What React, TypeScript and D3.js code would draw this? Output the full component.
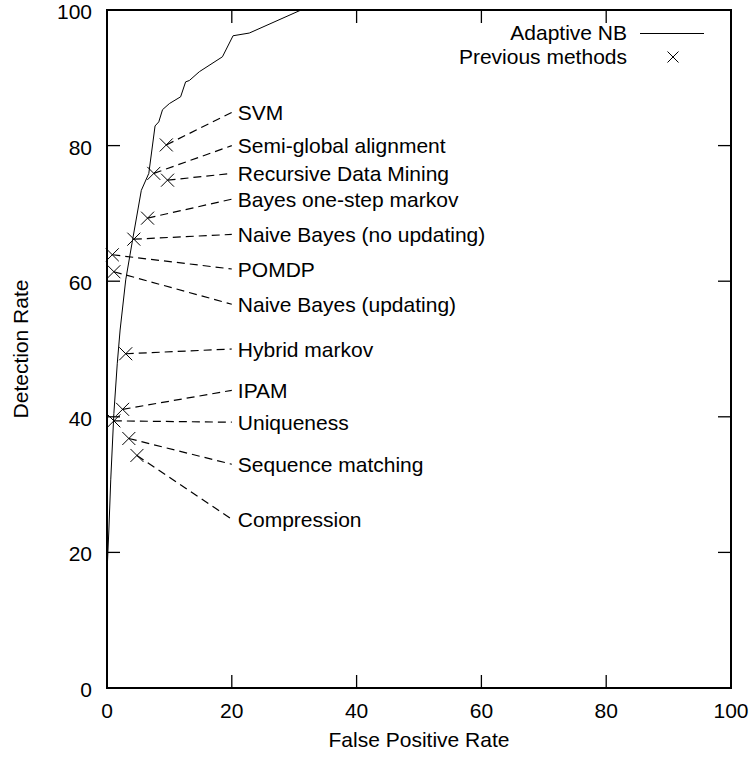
import React from "react";
import * as d3 from "d3";

// Adaptive NB ROC curve: false positive rate / detection rate
const curveFpr = [0.05, 0.3, 0.6, 1.1, 1.65, 2.1, 3.0, 4.1, 5.5, 6.7, 7.7, 8.3, 8.9, 10, 11.8, 12.6, 13.2, 14.8, 18.5, 20.2, 22.8, 31.1];
const curveDr = [18, 23.3, 30.7, 40.5, 47.9, 52.8, 60.2, 66.1, 73.4, 75.9, 82.9, 83.5, 85.3, 86.2, 87.2, 89.4, 89.6, 90.9, 93.1, 96.2, 96.6, 100];

// previous methods
const methodNames = [
  "SVM",
  "Semi-global alignment",
  "Recursive Data Mining",
  "Bayes one-step markov",
  "Naive Bayes (no updating)",
  "POMDP",
  "Naive Bayes (updating)",
  "Hybrid markov",
  "IPAM",
  "Uniqueness",
  "Sequence matching",
  "Compression",
];
const methodFpr = [9.5, 7.5, 9.7, 6.5, 4.3, 0.85, 1.1, 3.0, 2.5, 1.1, 3.5, 4.8];
const methodDr = [80.1, 75.9, 74.9, 69.3, 66.2, 63.9, 61.4, 49.3, 41.1, 39.4, 36.8, 34.3];
const labelDr = [84.9, 80.0, 75.9, 72.1, 66.9, 61.8, 56.6, 50.0, 43.9, 39.2, 33.0, 24.9];
const labelFpr = 20;

const xTicks = [0, 20, 40, 60, 80, 100];
const yTicks = [0, 20, 40, 60, 80, 100];

const W = 753;
const H = 758;
const margin = { top: 10, right: 22, bottom: 70, left: 107 };
const font = "'Liberation Sans', Arial, Helvetica, sans-serif";
const fs = 21;
const capDy = fs * 0.358; // shift so y is the middle of capitals

const x = d3.scaleLinear().domain([0, 100]).range([margin.left, W - margin.right]);
const y = d3.scaleLinear().domain([0, 100]).range([H - margin.bottom, margin.top]);
const tick = 13;

const Cross = ({ cx, cy, s }: { cx: number; cy: number; s: number }) => (
  <path
    d={`M${cx - s},${cy - s}L${cx + s},${cy + s}M${cx - s},${cy + s}L${cx + s},${cy - s}`}
    stroke="black"
    strokeWidth={1}
    fill="none"
  />
);

const App = () => {
  const pts = curveFpr.map((f, i) => [f, curveDr[i]] as [number, number]);
  const line = d3.line<[number, number]>().x((d) => x(d[0])).y((d) => y(d[1]));
  const textProps = { fontFamily: font, fontSize: fs, fill: "black" };

  const x0 = x(0);
  const x1 = x(100);
  const y0 = y(0);
  const y1 = y(100);

  return (
    <svg
      width={W}
      height={H}
      style={{ position: "absolute", left: 0, top: 0, background: "white" }}
    >
      {xTicks.map((t) => (
        <text key={"x" + t} x={x(t)} y={y0 + 22 + capDy} textAnchor="middle" {...textProps}>
          {t}
        </text>
      ))}
      {yTicks.map((t) => (
        <text key={"y" + t} x={x0 - 15} y={y(t) + 1.5 + capDy} textAnchor="end" {...textProps}>
          {t}
        </text>
      ))}

      {/* axis titles */}
      <text x={(x0 + x1) / 2} y={y0 + 51 + capDy} textAnchor="middle" {...textProps}>
        False Positive Rate
      </text>
      <text
        transform={`translate(${20 + capDy},${(y0 + y1) / 2}) rotate(-90)`}
        textAnchor="middle"
        {...textProps}
      >
        Detection Rate
      </text>

      {/* Adaptive NB */}
      <path d={line(pts) ?? ""} fill="none" stroke="black" strokeWidth={1} />

      {/* previous methods with leaders and labels */}
      {methodNames.map((name, i) => (
        <g key={name}>
          <line
            x1={x(methodFpr[i])}
            y1={y(methodDr[i])}
            x2={x(labelFpr)}
            y2={y(labelDr[i])}
            stroke="black"
            strokeWidth={1.2}
            strokeDasharray="8,5"
          />
          <Cross cx={x(methodFpr[i])} cy={y(methodDr[i])} s={6.5} />
          <text x={x(labelFpr) + 6} y={y(labelDr[i]) + capDy} {...textProps}>
            {name}
          </text>
        </g>
      ))}

      {/* legend */}
      <text x={627} y={32 + capDy} textAnchor="end" {...textProps}>
        Adaptive NB
      </text>
      <line x1={640} x2={704} y1={33.5} y2={33.5} stroke="black" strokeWidth={1} />
      <text x={627} y={56.5 + capDy} textAnchor="end" {...textProps}>
        Previous methods
      </text>
      <Cross cx={673} cy={57} s={5.5} />

      {/* ticks, mirrored and inward */}
      {xTicks.map((t) => (
        <g key={"xt" + t}>
          <line x1={x(t)} x2={x(t)} y1={y0} y2={y0 - tick} stroke="black" strokeWidth={1.3} />
          <line x1={x(t)} x2={x(t)} y1={y1} y2={y1 + tick} stroke="black" strokeWidth={1.3} />
        </g>
      ))}
      {yTicks.map((t) => (
        <g key={"yt" + t}>
          <line x1={x0} x2={x0 + tick} y1={y(t)} y2={y(t)} stroke="black" strokeWidth={1.3} />
          <line x1={x1} x2={x1 - tick} y1={y(t)} y2={y(t)} stroke="black" strokeWidth={1.3} />
        </g>
      ))}

      {/* frame */}
      <rect x={x0} y={y1} width={x1 - x0} height={y0 - y1} fill="none" stroke="black" strokeWidth={2} />
    </svg>
  );
};

export default App;
